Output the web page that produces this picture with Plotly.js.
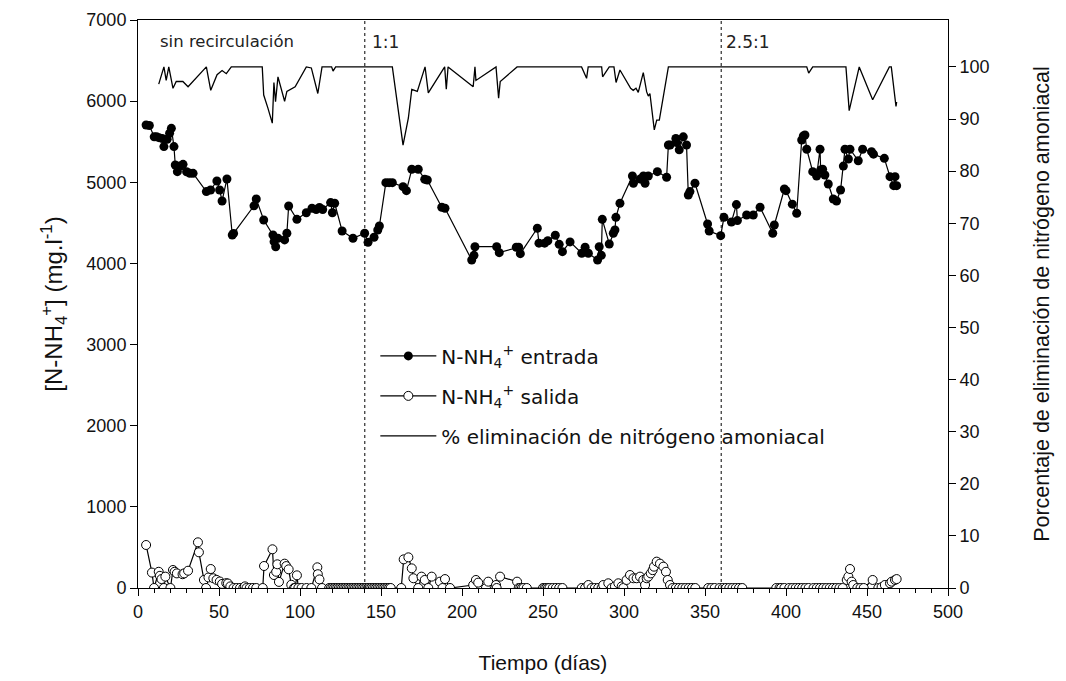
<!DOCTYPE html>
<html><head><meta charset="utf-8">
<script src="https://cdn.plot.ly/plotly-3.0.1.min.js"></script>
<style>body{margin:0;background:#fff}#chart{width:1066px;height:681px}</style>
</head><body><div id="chart"></div>
<script>
// N-NH4+ entrada (mg/l)
const entradaDias = [5,7,10,11.5,13,15,16,18,19.5,20.6,22.2,23,24.3,26,27.8,30,32,34,42.2,44.8,48.7,50.4,51.9,54.9,58.2,59,71.6,73,77.6,83.3,84,85,86.4,90.5,91.9,93,98.1,103.9,107.4,110,112,114,118.9,120,121.4,126,132.7,139.9,142,145.7,148,149,153,155,157,163.6,165.7,169,173,177,178.6,187.5,189.5,206,207.4,208,221.4,223,233.5,235,236,246.5,247.5,251,253,257.6,260,262,266.7,273.9,276,278,283.7,284.7,286,286.6,290.9,293.4,294.4,295,297.5,305.2,305.8,310,312,313,315,320.6,326.3,327.4,328.4,332,332.5,334.1,336.6,338.6,339.7,340.7,343.8,351.6,352.6,359.7,361.7,366.3,369.4,370,375.7,379.8,384,391.8,392.8,399,400,403.9,406.6,409.7,410.7,411.7,412.8,416.5,418.9,421,421.4,422.6,424,426.1,429.2,431.2,433.7,435.4,436.4,438.5,439.5,444.6,447.3,452.8,454,460.7,464.2,466.5,467.3,468.3];
const entradaVal = [5706,5700,5560,5560,5550,5540,5440,5530,5604,5665,5440,5213,5131,5200,5221,5130,5110,5110,4885,4905,5016,4905,4770,5041,4350,4370,4710,4794,4535,4350,4268,4206,4310,4290,4372,4708,4543,4625,4680,4665,4690,4665,4750,4625,4742,4400,4310,4372,4260,4322,4412,4461,4995,4995,4995,4946,4897,5160,5160,5037,5028,4692,4680,4042,4100,4206,4206,4133,4200,4200,4120,4433,4250,4250,4280,4347,4235,4145,4265,4125,4200,4125,4042,4206,4100,4543,4240,4372,4412,4568,4742,5078,4988,5040,5078,4988,5078,5131,5062,5460,5460,5540,5490,5400,5560,5460,4843,4885,4988,4486,4400,4342,4568,4511,4725,4528,4597,4597,4692,4372,4474,4917,4897,4730,4618,5521,5570,5583,5407,5131,5078,5407,5151,5160,5090,4979,4794,4770,4905,5200,5407,5287,5407,5266,5407,5377,5347,5295,5069,4958,5069,4958];

// N-NH4+ salida (mg/l)
const salidaDias = [5,8.6,9.9,12.8,13.5,14.5,16,16.9,20,21.6,22.6,24,27.5,28.5,30.9,37,37.6,40.7,42,43.5,44.9,46.5,48.5,50.5,51.9,54.5,55.5,57,59,61,63,65,66,67,69,71,73,77,77.8,83,83.9,85.3,86,87,90.5,91.5,93,94.6,96.3,97,98.1,99,101,104,107,110.7,111,112,113.6,118,119,120,121,122,123,124,125,126,127,128,129,130,131,132,133,134,135,136,137,138,139,140,141,142,143,144,145,146,147,148,149,150,151,152,153,154,155,156,162.5,164,166.9,169,170,173,175,177,179.2,181.3,186.4,188,189.5,192.6,206.9,208.6,210,214.8,216.2,221,221.4,223.5,234,235,236,237,238,240,250,251,252,253,254,256,258,260,262,273.9,276,278,280,282,284.1,286.2,287.2,290.3,292.4,294.4,296.5,298.6,299.6,301.6,303.7,305.8,307.8,309.9,311.9,313,314,315,316.5,317.7,318.5,320.2,322.2,324.3,325.9,327,328.4,330,332,334,336,338,340,342,344,352,354,356,359,361,363,365,367,369,371,373,394,396,397,399,402,404,406,408,410,412,414,417,419,421,423,425,427,429,431,433,435,437.5,438.5,439.5,440.5,441.5,444,446,448,453.5,457,459,461,464.2,465.2,467.3,468.3];
const salidaVal = [530,190,0,200,150,110,0,140,0,222,200,180,170,180,213,563,440,99,0,130,234,120,100,80,50,60,55,20,0,0,0,0,20,0,0,0,0,0,271,477,160,200,292,75,300,270,230,40,0,0,156,0,0,0,0,255,170,106,0,0,0,0,0,0,0,0,0,0,0,0,0,0,0,0,0,0,0,0,0,0,0,0,0,0,0,0,0,0,0,0,0,0,0,0,0,0,0,0,0,353,378,242,120,0,140,99,0,140,78,0,110,0,37,99,66,0,78,37,0,140,78,0,0,0,0,0,0,0,0,0,0,0,0,0,0,0,0,37,0,0,0,0,37,58,0,20,58,20,0,99,160,120,120,140,99,37,120,140,180,220,263,325,300,263,200,99,37,0,0,0,0,0,0,0,0,0,0,0,0,0,0,0,0,0,0,0,0,0,0,0,0,0,0,0,0,0,0,0,0,0,0,0,0,0,0,0,0,99,140,234,78,37,0,0,0,99,0,10,37,58,78,99,110];

// % eliminación de nitrógeno amoniacal
const pctDias = [12.8,16,17.4,19,21.6,23.6,27.7,30.9,42.2,44.9,48.8,51.9,54.5,57.6,76.7,77.6,80.2,82.9,83.9,84.9,86.4,90.5,91.9,97,103.9,107,111,113.6,119.5,120.4,122,157,163.6,166.9,169,172.4,177.2,179.2,189.3,190.3,191.4,206.9,208,208.6,221,222.6,223.6,234,273.8,276.9,277.9,286.2,286.8,290.9,293.8,295.1,297.5,304.1,305.7,307.4,308.8,311.9,314,315,316,318.7,320.2,321.8,327.4,412.8,414,416.5,437,439,445.2,453.5,463.8,465,467.9,468.3];
const pctVal = [96.7,100,97.4,100,95.9,97.2,97.2,96.2,100,95.5,98.5,99.3,98.7,100,100,94.6,92.1,89.2,97,93.3,98.1,93.4,95.3,96.2,100,99.8,94.9,100,100,99.2,100,100,85,90.2,95.7,95.3,100,95,100,95.7,100,96.2,100,97.4,100,94,97.2,100,100,97.8,100,100,98.1,100,100,97,99.4,95.9,95.5,95.9,95.1,98.9,95.2,94.4,94.9,87.9,89.8,89.8,100,100,98.8,100,100,91.6,100,93.7,100,100,92.4,93.3];

const xTicks = [0,50,100,150,200,250,300,350,400,450,500];
const yTicks = [0,1000,2000,3000,4000,5000,6000,7000];
const y2Ticks = [0,10,20,30,40,50,60,70,80,90,100];

const legFont = "'DejaVu Sans', 'Open Sans', sans-serif";
const axFont = "'Liberation Sans', Arial, sans-serif";

const traces = [
  {x: entradaDias, y: entradaVal, type:'scatter', mode:'lines+markers',
   name:'N-NH<sub>4</sub><sup>+</sup> entrada', legendgroup:'a',
   line:{color:'#000', width:1.2}, marker:{symbol:'circle', size:9, color:'#000'}},
  {x: salidaDias, y: salidaVal, type:'scatter', mode:'lines+markers',
   name:'N-NH<sub>4</sub><sup>+</sup> salida', legendgroup:'b',
   line:{color:'#000', width:1.2}, marker:{symbol:'circle', size:9, color:'#fff', line:{color:'#000', width:1}}},
  {x: pctDias, y: pctVal, type:'scatter', mode:'lines', yaxis:'y2',
   name:'% eliminación de nitrógeno amoniacal', legendgroup:'c',
   line:{color:'#000', width:1.3}}
];

const layout = {
  width:1066, height:681,
  margin:{l:138, r:118, t:20, b:93},
  paper_bgcolor:'#fff', plot_bgcolor:'#fff',
  showlegend:true,
  legend:{x:0.293, y:0.443, xanchor:'left', yanchor:'top', bgcolor:'rgba(0,0,0,0)',
    itemwidth:56, font:{family:legFont, size:20, color:'#111'}, tracegroupgap:11},
  xaxis:{range:[0,500], tickvals:xTicks, ticks:'outside', ticklen:7, tickwidth:1, tickcolor:'#000',
    showline:true, linecolor:'#000', linewidth:1, mirror:true, showgrid:false, zeroline:false,
    minor:{dtick:10, ticks:'outside', ticklen:4, tickcolor:'#000', showgrid:false},
    tickfont:{family:axFont, size:18, color:'#111'},
    title:{text:'Tiempo (días)', font:{family:axFont, size:21, color:'#111'}, standoff:34}},
  yaxis:{range:[0,7000], tickvals:yTicks, ticks:'outside', ticklen:7, tickcolor:'#000',
    showline:true, linecolor:'#000', linewidth:1, showgrid:false, zeroline:false,
    tickfont:{family:axFont, size:18, color:'#111'},
    title:{text:'[N-NH<sub>4</sub><sup>+</sup>] (mg.l<sup>-1</sup>)', font:{family:axFont, size:24, color:'#111'}, standoff:16}},
  yaxis2:{range:[0,109], overlaying:'y', side:'right', tickvals:y2Ticks, ticks:'outside', ticklen:7, tickcolor:'#000',
    showline:true, linecolor:'#000', linewidth:1, showgrid:false, zeroline:false,
    tickfont:{family:axFont, size:18, color:'#111'},
    title:{text:'Porcentaje de eliminación de nitrógeno amoniacal', font:{family:axFont, size:21.5, color:'#111'}, standoff:45}},
  shapes:[
    {type:'line', xref:'x', yref:'paper', x0:140, x1:140, y0:0, y1:1, line:{color:'#000', width:1, dash:'dot'}},
    {type:'line', xref:'x', yref:'paper', x0:360, x1:360, y0:0, y1:1, line:{color:'#000', width:1, dash:'dot'}}
  ],
  annotations:[
    {text:'sin recirculación', xref:'x', yref:'paper', x:12.5, y:0.962, xanchor:'left', yanchor:'middle', showarrow:false, font:{family:legFont, size:16.5, color:'#222'}},
    {text:'1:1', xref:'x', yref:'paper', x:143, y:0.962, xanchor:'left', yanchor:'middle', showarrow:false, font:{family:legFont, size:17, color:'#222'}},
    {text:'2.5:1', xref:'x', yref:'paper', x:362, y:0.962, xanchor:'left', yanchor:'middle', showarrow:false, font:{family:legFont, size:17, color:'#222'}}
  ]
};

Plotly.newPlot('chart', traces, layout, {displayModeBar:false, staticPlot:true});
</script>
</body></html>
